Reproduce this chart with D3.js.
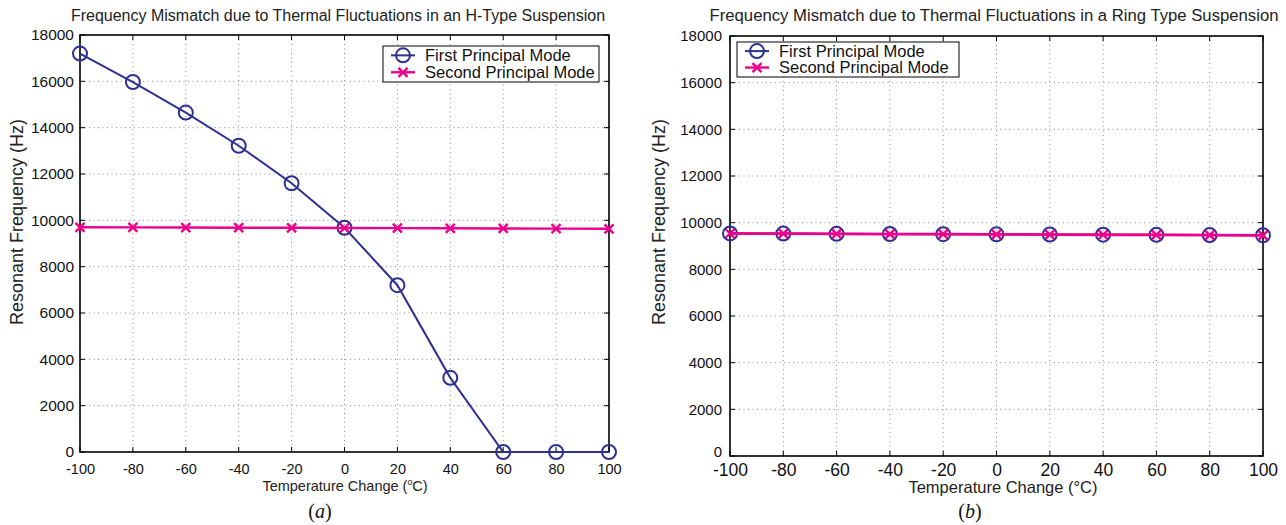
<!DOCTYPE html>
<html>
<head>
<meta charset="utf-8">
<script src="https://cdn.jsdelivr.net/npm/d3@7"></script>
<style>
  html, body { margin: 0; padding: 0; background: #fff; }
  svg { display: block; }
</style>
</head>
<body>
<svg id="fig" width="1286" height="525"></svg>
<script>
// Temperature steps (°C) shared by both panels
const temps = [-100, -80, -60, -40, -20, 0, 20, 40, 60, 80, 100];
const xTicks = [-100, -80, -60, -40, -20, 0, 20, 40, 60, 80, 100];
const yTicks = [0, 2000, 4000, 6000, 8000, 10000, 12000, 14000, 16000, 18000];
const seriesNames = ["First Principal Mode", "Second Principal Mode"];

// (a) H-type suspension, resonant frequency in Hz
const hFirst  = [17200, 15970, 14650, 13220, 11600, 9680, 7200, 3200, 0, 0, 0];
const hSecond = [9700, 9694, 9688, 9683, 9677, 9670, 9663, 9656, 9649, 9642, 9635];

// (b) Ring-type suspension, resonant frequency in Hz
const ringFirst  = [9540, 9531, 9523, 9515, 9507, 9500, 9493, 9486, 9478, 9470, 9462];
const ringSecond = [9536, 9528, 9520, 9512, 9505, 9498, 9490, 9482, 9475, 9467, 9459];

const BLUE = "#2e3192";
const MAGENTA = "#ec008c";
const FONT = "'Liberation Sans', Arial, Helvetica, sans-serif";
const SERIF = "'Liberation Serif', 'Times New Roman', serif";

const svg = d3.select("#fig");

function drawPanel(p) {
  const x = d3.scaleLinear().domain([-100, 100]).range([p.left, p.right]);
  const y = d3.scaleLinear().domain([0, 18000]).range([p.bottom, p.top]);
  const g = svg.append("g").attr("font-family", FONT);

  // dotted grid
  g.append("g").selectAll("line").data(xTicks.slice(1, -1)).join("line")
    .attr("x1", d => x(d)).attr("x2", d => x(d))
    .attr("y1", p.top).attr("y2", p.bottom)
    .attr("stroke", "#8a8a8a").attr("stroke-width", 1).attr("stroke-dasharray", "1,3.5");
  g.append("g").selectAll("line").data(yTicks.slice(1, -1)).join("line")
    .attr("y1", d => y(d)).attr("y2", d => y(d))
    .attr("x1", p.left).attr("x2", p.right)
    .attr("stroke", "#8a8a8a").attr("stroke-width", 1).attr("stroke-dasharray", "1,3.5");

  // inward ticks on all four sides
  const tk = 5;
  const ticks = g.append("g").attr("stroke", "#000").attr("stroke-width", 1);
  xTicks.forEach(d => {
    ticks.append("line").attr("x1", x(d)).attr("x2", x(d)).attr("y1", p.bottom).attr("y2", p.bottom - tk);
    ticks.append("line").attr("x1", x(d)).attr("x2", x(d)).attr("y1", p.top).attr("y2", p.top + tk);
  });
  yTicks.forEach(d => {
    ticks.append("line").attr("y1", y(d)).attr("y2", y(d)).attr("x1", p.left).attr("x2", p.left + tk);
    ticks.append("line").attr("y1", y(d)).attr("y2", y(d)).attr("x1", p.right).attr("x2", p.right - tk);
  });

  // tick labels through d3 axes (plain hyphen for negatives)
  const fmt = d => String(d);
  const xa = g.append("g").attr("transform", `translate(0,${p.bottom})`)
    .call(d3.axisBottom(x).tickValues(xTicks).tickSize(0).tickPadding(p.xPad).tickFormat(fmt))
    .attr("font-family", FONT);
  xa.select(".domain").remove();
  xa.selectAll("text").attr("font-size", p.xFont).attr("fill", "#111");

  const ya = g.append("g").attr("transform", `translate(${p.left},0)`)
    .call(d3.axisLeft(y).tickValues(yTicks).tickSize(0).tickPadding(p.yPad).tickFormat(fmt))
    .attr("font-family", FONT);
  ya.select(".domain").remove();
  ya.selectAll("text").attr("font-size", p.yFont).attr("fill", "#111");
  // the zero label sits a little above the corner, clear of the x labels
  ya.selectAll(".tick").filter(d => d === 0).select("text")
    .attr("dy", `${0.32 - p.zeroLift / p.yFont}em`);

  // frame
  g.append("rect").attr("x", p.left).attr("y", p.top)
    .attr("width", p.right - p.left).attr("height", p.bottom - p.top)
    .attr("fill", "none").attr("stroke", "#000").attr("stroke-width", 1.6);

  // series
  const line = d3.line().x((d, i) => x(temps[i])).y(d => y(d));
  g.append("path").datum(p.first).attr("d", line)
    .attr("fill", "none").attr("stroke", BLUE).attr("stroke-width", 2);
  g.append("g").selectAll("circle").data(p.first).join("circle")
    .attr("cx", (d, i) => x(temps[i])).attr("cy", d => y(d)).attr("r", 7)
    .attr("fill", "none").attr("stroke", BLUE).attr("stroke-width", 2);

  g.append("path").datum(p.second).attr("d", line)
    .attr("fill", "none").attr("stroke", MAGENTA).attr("stroke-width", p.magWidth);
  const s = 4.5;
  const crosses = g.append("g").attr("stroke", MAGENTA).attr("stroke-width", 2.4);
  p.second.forEach((d, i) => {
    const cx = x(temps[i]), cy = y(d);
    crosses.append("path").attr("d", `M${cx - s},${cy - s}L${cx + s},${cy + s}M${cx - s},${cy + s}L${cx + s},${cy - s}`);
  });

  // title
  g.append("text").attr("x", p.titleX).attr("y", 21).attr("text-anchor", "middle")
    .attr("font-size", p.titleFont).attr("fill", "#222").text(p.title);

  // x label
  const xl = g.append("text").attr("x", p.xLabelX).attr("y", p.xLabelY).attr("text-anchor", "middle")
    .attr("font-size", p.xLabelFont).attr("fill", "#222");
  if (p.superDegree) {
    xl.append("tspan").text("Temperature Change (");
    xl.append("tspan").attr("dy", -p.xLabelFont * 0.4).attr("font-size", p.xLabelFont * 0.6).text("o");
    xl.append("tspan").attr("dy", p.xLabelFont * 0.4).text("C)");
  } else {
    xl.text("Temperature Change (°C)");
  }

  // y label
  g.append("text").attr("transform", `translate(${p.yLabelX},${p.yLabelY}) rotate(-90)`)
    .attr("text-anchor", "middle").attr("font-size", p.yLabelFont).attr("fill", "#222")
    .text("Resonant Frequency (Hz)");

  // legend
  const L = p.legend;
  g.append("rect").attr("x", L.x).attr("y", L.y).attr("width", L.w).attr("height", L.h)
    .attr("fill", "#fff").attr("stroke", "#000").attr("stroke-width", 1);
  const rows = [L.y + L.h * 0.26, L.y + L.h * 0.73];
  const lx0 = L.x + 8, lx1 = L.x + 32, lxm = (lx0 + lx1) / 2;
  g.append("line").attr("x1", lx0).attr("x2", lx1).attr("y1", rows[0]).attr("y2", rows[0])
    .attr("stroke", BLUE).attr("stroke-width", 2);
  g.append("circle").attr("cx", lxm).attr("cy", rows[0]).attr("r", 7)
    .attr("fill", "none").attr("stroke", BLUE).attr("stroke-width", 2);
  g.append("line").attr("x1", lx0).attr("x2", lx1).attr("y1", rows[1]).attr("y2", rows[1])
    .attr("stroke", MAGENTA).attr("stroke-width", 2.4);
  g.append("path").attr("d", `M${lxm - s},${rows[1] - s}L${lxm + s},${rows[1] + s}M${lxm - s},${rows[1] + s}L${lxm + s},${rows[1] - s}`)
    .attr("stroke", MAGENTA).attr("stroke-width", 2.4);
  seriesNames.forEach((name, i) => {
    g.append("text").attr("x", L.x + 42).attr("y", rows[i]).attr("dy", "0.36em")
      .attr("font-size", 16.5).attr("fill", "#111").text(name);
  });

  // panel caption, serif with italic letter
  const cap = g.append("text").attr("x", p.capX).attr("y", 518).attr("text-anchor", "middle")
    .attr("font-family", SERIF).attr("font-size", 20).attr("fill", "#111");
  cap.append("tspan").text("(");
  cap.append("tspan").attr("font-style", "italic").text(p.cap);
  cap.append("tspan").text(")");
}

drawPanel({
  left: 80, right: 609, top: 35, bottom: 452,
  first: hFirst, second: hSecond, magWidth: 2.4,
  xFont: 14.5, xPad: 12, yFont: 15.5, yPad: 6, zeroLift: 0,
  title: "Frequency Mismatch due to Thermal Fluctuations in an H-Type  Suspension",
  titleX: 338, titleFont: 16,
  xLabelX: 345, xLabelY: 491, xLabelFont: 14.5, superDegree: true,
  yLabelX: 23, yLabelY: 222, yLabelFont: 18,
  legend: { x: 383, y: 46, w: 216, h: 36 },
  capX: 320, cap: "a"
});

drawPanel({
  left: 730, right: 1263, top: 36, bottom: 456,
  first: ringFirst, second: ringSecond, magWidth: 2.8,
  xFont: 17.5, xPad: 8, yFont: 15, yPad: 8, zeroLift: 4,
  title: "Frequency Mismatch due to Thermal Fluctuations in a Ring Type Suspension",
  titleX: 994, titleFont: 16.7,
  xLabelX: 1003, xLabelY: 493, xLabelFont: 16.5, superDegree: false,
  yLabelX: 665, yLabelY: 222, yLabelFont: 18,
  legend: { x: 737, y: 42, w: 222, h: 35 },
  capX: 970, cap: "b"
});
</script>
</body>
</html>
